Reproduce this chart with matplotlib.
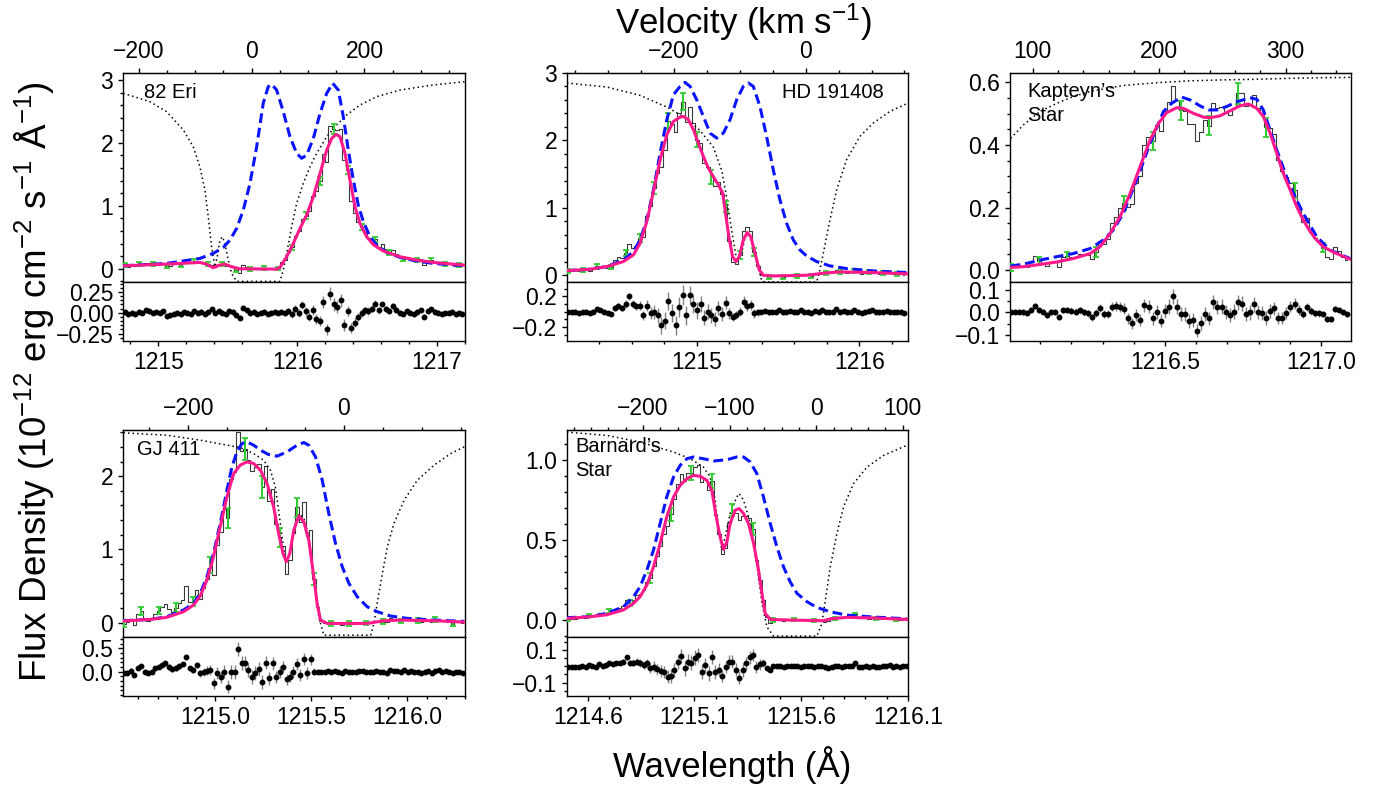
import numpy as np
import matplotlib
matplotlib.use("Agg")
import matplotlib.pyplot as plt
from matplotlib.ticker import FixedLocator, MultipleLocator, FuncFormatter

plt.rcParams['font.family'] = ['Liberation Sans', 'DejaVu Sans']
plt.rcParams['mathtext.default'] = 'regular'

LYA = 1215.67          # rest wavelength of Lyman alpha (A)
C_KMS = 299792.458

# ---------------- 82 Eri ----------------
eri_grid = (1214.76, 0.025)
eri_flux = [0.06, 0.03, 0.055, 0.05, 0.07, 0.06, 0.095, 0.085, 0.07, 0.08,
            0.07, 0.095, 0.035, 0.05, 0.07, 0.085, 0.065, 0.10, 0.09, 0.085,
            0.12, 0.10, 0.11, 0.075, 0.07, 0.06, 0.03, 0.08, 0.075, 0.05,
            0.065, 0.04, -0.02, -0.06, 0.06, 0.03, 0.0, 0.01, -0.01, 0.0,
            0.01, -0.01, 0.0, 0.01, 0.005, 0.10, 0.14, 0.27, 0.34, 0.52,
            0.60, 0.79, 0.84, 0.91, 1.15, 1.23, 1.40, 1.83, 1.69, 2.27,
            2.22, 2.20, 2.22, 1.73, 1.57, 1.08, 0.88, 0.75, 0.66, 0.58,
            0.49, 0.46, 0.47, 0.35, 0.39, 0.31, 0.26, 0.30, 0.23, 0.19,
            0.16, 0.18, 0.15, 0.12, 0.14, 0.15, 0.065, 0.13, 0.14, 0.105,
            0.09, 0.075, 0.08, 0.075, 0.08, 0.045, 0.06, 0.05]
eri_err = [0.03, 0.03, 0.03, 0.03, 0.03, 0.03, 0.03, 0.03, 0.03, 0.03,
           0.03, 0.03, 0.03, 0.03, 0.03, 0.03, 0.03, 0.03, 0.03, 0.03,
           0.03, 0.03, 0.03, 0.03, 0.03, 0.03, 0.03, 0.03, 0.03, 0.03,
           0.03, 0.03, 0.03, 0.03, 0.03, 0.03, 0.03, 0.03, 0.03, 0.03,
           0.03, 0.03, 0.03, 0.03, 0.03, 0.03, 0.035, 0.04, 0.04, 0.045,
           0.05, 0.05, 0.055, 0.055, 0.06, 0.06, 0.065, 0.07, 0.07, 0.075,
           0.075, 0.075, 0.075, 0.07, 0.065, 0.06, 0.055, 0.05, 0.05, 0.045,
           0.045, 0.04, 0.04, 0.04, 0.035, 0.035, 0.035, 0.035, 0.035, 0.03,
           0.03, 0.03, 0.03, 0.03, 0.03, 0.03, 0.03, 0.03, 0.03, 0.03,
           0.03, 0.03, 0.03, 0.03, 0.03, 0.03, 0.03, 0.03]
eri_resid = [0.01, -0.02, 0.0, -0.01, 0.01, 0.0, 0.03, 0.02, 0.0, 0.01,
             0.0, 0.02, -0.04, -0.03, -0.01, 0.0, -0.02, 0.01, 0.0, -0.01,
             0.02, 0.0, 0.01, -0.01, 0.01, 0.04, 0.0, 0.02, 0.0, -0.02,
             0.02, 0.01, -0.03, -0.06, 0.06, 0.03, 0.0, 0.01, -0.01, 0.0,
             0.01, -0.01, 0.0, 0.01, 0.0, 0.01, 0.0, 0.02, -0.02, 0.05,
             0.0, 0.09, 0.02, -0.05, 0.03, -0.07, -0.10, 0.13, -0.20, 0.23,
             0.10, 0.07, 0.15, -0.15, 0.02, -0.18, -0.12, -0.05, 0.0, 0.03,
             0.02, 0.05, 0.11, 0.03, 0.10, 0.05, 0.02, 0.08, 0.03, 0.0,
             -0.01, 0.02, 0.0, -0.02, 0.01, 0.03, -0.05, 0.02, 0.04, 0.01,
             0.0, -0.01, 0.0, 0.0, 0.01, -0.02, 0.0, -0.01]
eri_model_wave = [1214.749, 1215.060, 1215.299, 1215.347, 1215.395, 1215.431, 1215.479, 1215.527,
                  1215.587, 1215.850, 1215.874, 1215.922, 1215.970, 1216.018, 1216.066, 1216.114,
                  1216.162, 1216.210, 1216.246, 1216.277, 1216.305, 1216.341, 1216.377, 1216.413,
                  1216.449, 1216.497, 1216.545, 1216.617, 1216.737, 1216.856, 1216.976, 1217.204]
eri_model_flux = [0.048, 0.074, 0.101, 0.074, 0.016, 0.053, 0.074, 0.032,
                  0.0, -0.005, 0.021, 0.191, 0.403, 0.641, 0.853, 1.145,
                  1.516, 1.887, 2.072, 2.136, 2.099, 1.834, 1.410, 0.986,
                  0.721, 0.509, 0.382, 0.281, 0.191, 0.138, 0.101, 0.058]
eri_intr_wave = [1214.749, 1215.060, 1215.299, 1215.395, 1215.467, 1215.515, 1215.563, 1215.611,
                 1215.659, 1215.707, 1215.754, 1215.790, 1215.814, 1215.850, 1215.898, 1215.946,
                 1215.994, 1216.030, 1216.066, 1216.114, 1216.162, 1216.210, 1216.253, 1216.293,
                 1216.329, 1216.365, 1216.401, 1216.437, 1216.473, 1216.521, 1216.569, 1216.641,
                 1216.737, 1216.856, 1216.976, 1217.204]
eri_intr_flux = [0.048, 0.085, 0.164, 0.244, 0.339, 0.456, 0.641, 0.933,
                 1.357, 1.940, 2.628, 2.894, 2.931, 2.841, 2.496, 2.099,
                 1.834, 1.755, 1.807, 2.072, 2.470, 2.788, 2.947, 2.841,
                 2.417, 1.887, 1.410, 1.007, 0.747, 0.509, 0.376, 0.260,
                 0.180, 0.122, 0.085, 0.048]
eri_ism_wave = [1214.749, 1214.940, 1215.060, 1215.180, 1215.251, 1215.299, 1215.335, 1215.359,
                1215.383, 1215.407, 1215.424, 1215.443, 1215.460, 1215.479, 1215.503, 1215.527,
                1215.563, 1215.874, 1215.898, 1215.922, 1215.958, 1215.994, 1216.042, 1216.090,
                1216.138, 1216.210, 1216.281, 1216.353, 1216.449, 1216.569, 1216.737, 1216.976,
                1217.204]
eri_ism_flux = [2.788, 2.655, 2.496, 2.205, 1.940, 1.622, 1.256, 0.832,
                0.350, 0.032, 0.191, 0.456, 0.509, 0.403, 0.138, -0.074,
                -0.20, -0.20, -0.02, 0.244, 0.668, 1.039, 1.357, 1.622,
                1.834, 2.099, 2.284, 2.443, 2.602, 2.734, 2.840, 2.920,
                2.973]

# ---------------- HD 191408 ----------------
hd_grid = (1214.21, 0.022)
hd_flux = [0.07, 0.065, 0.08, 0.06, 0.075, 0.085, 0.07, 0.095, 0.13, 0.13,
           0.12, 0.11, 0.12, 0.22, 0.27, 0.25, 0.33, 0.46, 0.40, 0.44,
           0.55, 0.57, 0.88, 1.02, 1.29, 1.51, 1.60, 1.86, 2.29, 2.24,
           2.13, 2.40, 2.575, 2.28, 2.50, 2.26, 2.01, 1.96, 1.66, 1.61,
           1.46, 1.32, 1.39, 1.21, 1.02, 0.51, 0.20, 0.16, 0.30, 0.66,
           0.71, 0.66, 0.35, 0.14, 0.01, 0.01, -0.02, -0.01, -0.01, 0.01,
           -0.02, -0.01, 0.01, 0.0, -0.01, 0.02, 0.0, 0.0, -0.015, 0.02,
           0.02, 0.05, 0.035, 0.03, 0.045, 0.08, 0.05, 0.06, 0.04, 0.05,
           0.07, 0.045, 0.025, 0.04, 0.05, 0.06, 0.035, 0.025, 0.03, 0.04,
           0.03, 0.015, 0.025, 0.02, 0.0]
hd_err = [0.03, 0.03, 0.03, 0.03, 0.03, 0.03, 0.03, 0.03, 0.03, 0.03,
          0.03, 0.03, 0.03, 0.04, 0.04, 0.04, 0.05, 0.05, 0.05, 0.05,
          0.06, 0.06, 0.07, 0.08, 0.09, 0.10, 0.11, 0.11, 0.12, 0.12,
          0.12, 0.13, 0.13, 0.12, 0.12, 0.12, 0.11, 0.11, 0.10, 0.10,
          0.10, 0.09, 0.09, 0.09, 0.08, 0.07, 0.05, 0.05, 0.06, 0.07,
          0.07, 0.07, 0.06, 0.05, 0.03, 0.03, 0.03, 0.03, 0.03, 0.03,
          0.03, 0.03, 0.03, 0.03, 0.03, 0.03, 0.03, 0.03, 0.03, 0.03,
          0.03, 0.03, 0.03, 0.03, 0.03, 0.03, 0.03, 0.03, 0.03, 0.03,
          0.03, 0.03, 0.03, 0.03, 0.03, 0.03, 0.03, 0.03, 0.03, 0.03,
          0.03, 0.03, 0.03, 0.03, 0.03]
hd_resid = [0.0, -0.01, 0.0, -0.02, -0.01, 0.0, -0.02, 0.0, 0.03, 0.02,
            0.0, -0.02, -0.03, 0.05, 0.08, 0.05, 0.1, 0.2, 0.1, 0.07,
            0.08, -0.05, 0.08, -0.02, 0.0, -0.05, -0.18, -0.12, 0.14, -0.02,
            -0.18, 0.06, 0.22, -0.05, 0.22, 0.1, 0.02, 0.1, -0.08, 0.0,
            -0.05, -0.1, 0.05, -0.03, 0.12, -0.02, -0.07, -0.04, 0.0, 0.13,
            0.08, 0.09, -0.02, -0.01, 0.0, 0.01, -0.01, 0.0, 0.0, 0.02,
            -0.01, 0.0, 0.01, 0.0, -0.01, 0.02, 0.0, 0.0, -0.02, 0.01,
            0.0, 0.02, 0.0, -0.01, 0.0, 0.03, 0.0, 0.01, -0.01, 0.0,
            0.02, 0.0, -0.02, 0.0, 0.01, 0.02, 0.0, -0.01, 0.0, 0.01,
            0.0, -0.01, 0.0, 0.0, -0.02]
hd_model_wave = [1214.201, 1214.344, 1214.447, 1214.549, 1214.611, 1214.652, 1214.693, 1214.734,
                 1214.775, 1214.816, 1214.857, 1214.898, 1214.918, 1214.949, 1214.980, 1215.010,
                 1215.041, 1215.072, 1215.102, 1215.133, 1215.160, 1215.180, 1215.201, 1215.221,
                 1215.242, 1215.262, 1215.287, 1215.311, 1215.332, 1215.359, 1215.385, 1215.410,
                 1215.471, 1215.676, 1215.779, 1215.881, 1216.086, 1216.301]
hd_model_flux = [0.069, 0.089, 0.129, 0.203, 0.302, 0.475, 0.797, 1.243,
                 1.713, 2.084, 2.282, 2.347, 2.356, 2.307, 2.158, 1.960,
                 1.762, 1.589, 1.465, 1.342, 1.218, 0.871, 0.525, 0.277,
                 0.203, 0.277, 0.525, 0.634, 0.574, 0.327, 0.079, 0.0,
                 -0.01, 0.0, 0.03, 0.05, 0.04, 0.02]
hd_intr_wave = [1214.201, 1214.344, 1214.447, 1214.549, 1214.611, 1214.652, 1214.693, 1214.734,
                1214.775, 1214.816, 1214.857, 1214.898, 1214.928, 1214.959, 1215.000, 1215.041,
                1215.082, 1215.123, 1215.164, 1215.205, 1215.246, 1215.287, 1215.318, 1215.348,
                1215.389, 1215.430, 1215.471, 1215.512, 1215.553, 1215.594, 1215.635, 1215.676,
                1215.738, 1215.820, 1215.922, 1216.086, 1216.301]
hd_intr_flux = [0.069, 0.089, 0.129, 0.228, 0.351, 0.525, 0.822, 1.267,
                1.812, 2.307, 2.678, 2.802, 2.861, 2.802, 2.604, 2.356,
                2.109, 2.035, 2.109, 2.307, 2.604, 2.802, 2.851, 2.802,
                2.505, 2.059, 1.564, 1.119, 0.772, 0.525, 0.376, 0.287,
                0.203, 0.139, 0.099, 0.064, 0.040]
hd_ism_wave = [1214.201, 1214.447, 1214.652, 1214.816, 1214.939, 1215.020, 1215.102, 1215.154,
               1215.184, 1215.215, 1215.246, 1215.273, 1215.297, 1215.318, 1215.342, 1215.369,
               1215.400, 1215.420, 1215.738, 1215.758, 1215.779, 1215.820, 1215.861, 1215.922,
               1216.004, 1216.086, 1216.189, 1216.301]
hd_ism_flux = [2.851, 2.792, 2.668, 2.495, 2.322, 2.149, 1.901, 1.554,
               1.158, 0.663, 0.228, 0.30, 0.55, 0.62, 0.50, 0.20,
               -0.08, -0.10, -0.10, 0.079, 0.327, 0.822, 1.267, 1.713,
               2.059, 2.257, 2.431, 2.554]

# ---------------- Kapteyn's Star ----------------
kap_grid = (1216.005, 0.013)
kap_flux = [0.009, 0.014, 0.014, 0.013, 0.010, 0.025, 0.046, 0.028, 0.024, 0.012,
            0.025, 0.026, 0.009, 0.042, 0.045, 0.043, 0.043, 0.053, 0.047, 0.047,
            0.034, 0.058, 0.093, 0.083, 0.100, 0.149, 0.170, 0.197, 0.214, 0.201,
            0.211, 0.280, 0.301, 0.400, 0.426, 0.412, 0.464, 0.446, 0.507, 0.537,
            0.590, 0.545, 0.511, 0.508, 0.467, 0.468, 0.414, 0.442, 0.481, 0.461,
            0.535, 0.517, 0.521, 0.502, 0.497, 0.518, 0.565, 0.565, 0.523, 0.530,
            0.560, 0.517, 0.502, 0.457, 0.455, 0.434, 0.353, 0.316, 0.299, 0.280,
            0.255, 0.196, 0.155, 0.166, 0.128, 0.103, 0.089, 0.072, 0.042, 0.034,
            0.073, 0.062, 0.043, 0.032]
kap_err = [0.012, 0.012, 0.012, 0.012, 0.012, 0.013, 0.013, 0.013, 0.013, 0.013,
           0.014, 0.014, 0.014, 0.014, 0.014, 0.015, 0.015, 0.015, 0.015, 0.016,
           0.016, 0.017, 0.018, 0.018, 0.019, 0.020, 0.021, 0.022, 0.023, 0.023,
           0.024, 0.025, 0.026, 0.028, 0.029, 0.029, 0.030, 0.030, 0.031, 0.032,
           0.033, 0.032, 0.031, 0.031, 0.030, 0.030, 0.029, 0.030, 0.030, 0.030,
           0.031, 0.031, 0.031, 0.031, 0.031, 0.032, 0.033, 0.034, 0.033, 0.032,
           0.032, 0.031, 0.031, 0.030, 0.030, 0.029, 0.027, 0.026, 0.025, 0.024,
           0.023, 0.021, 0.019, 0.018, 0.017, 0.016, 0.015, 0.014, 0.014, 0.013,
           0.013, 0.013, 0.012, 0.012]
kap_resid = [0.0, 0.004, 0.003, 0.001, -0.003, 0.01, 0.029, 0.01, 0.004, -0.01,
             0.001, 0.001, -0.019, 0.012, 0.012, 0.007, 0.004, 0.01, 0.0, -0.004,
             -0.022, -0.004, 0.019, -0.007, -0.007, 0.025, 0.029, 0.026, 0.017, -0.026,
             -0.048, -0.012, -0.032, 0.032, 0.025, -0.025, 0.003, -0.036, 0.007, 0.026,
             0.072, 0.026, -0.007, -0.007, -0.039, -0.033, -0.081, -0.048, -0.007, -0.026,
             0.046, 0.025, 0.026, 0.0, -0.012, 0.003, 0.044, 0.039, -0.007, 0.0,
             0.036, 0.0, -0.001, -0.025, 0.007, 0.019, -0.025, -0.025, -0.003, 0.025,
             0.039, 0.01, -0.007, 0.025, 0.007, -0.004, -0.004, -0.007, -0.029, -0.029,
             0.017, 0.012, 0.0, -0.007]
kap_model_wave = [1216.005, 1216.046, 1216.099, 1216.153, 1216.206, 1216.260, 1216.292, 1216.324,
                  1216.356, 1216.388, 1216.420, 1216.452, 1216.479, 1216.505, 1216.537, 1216.559,
                  1216.591, 1216.623, 1216.644, 1216.676, 1216.708, 1216.740, 1216.767, 1216.794,
                  1216.815, 1216.837, 1216.858, 1216.879, 1216.901, 1216.922, 1216.943, 1216.965,
                  1216.986, 1217.007, 1217.040, 1217.093]
kap_model_flux = [0.0085, 0.011, 0.018, 0.026, 0.037, 0.053, 0.075, 0.117,
                  0.171, 0.245, 0.331, 0.416, 0.469, 0.503, 0.519, 0.517,
                  0.501, 0.489, 0.487, 0.493, 0.509, 0.525, 0.531, 0.517,
                  0.491, 0.437, 0.373, 0.309, 0.256, 0.203, 0.160, 0.123,
                  0.096, 0.075, 0.057, 0.035]
kap_intr_wave = [1216.005, 1216.046, 1216.099, 1216.153, 1216.206, 1216.260, 1216.302, 1216.334,
                 1216.366, 1216.409, 1216.452, 1216.495, 1216.521, 1216.553, 1216.580, 1216.612,
                 1216.639, 1216.666, 1216.698, 1216.730, 1216.772, 1216.794, 1216.815, 1216.858,
                 1216.901, 1216.943, 1216.986, 1217.029, 1217.093]
kap_intr_flux = [0.013, 0.019, 0.032, 0.043, 0.053, 0.069, 0.096, 0.128,
                 0.181, 0.288, 0.405, 0.507, 0.533, 0.553, 0.544, 0.525,
                 0.512, 0.512, 0.523, 0.538, 0.551, 0.546, 0.512, 0.384,
                 0.267, 0.181, 0.107, 0.064, 0.037]
kap_ism_wave = [1216.005, 1216.046, 1216.099, 1216.153, 1216.206, 1216.260, 1216.313, 1216.366,
                1216.473, 1216.580, 1216.687, 1216.794, 1216.901, 1217.007, 1217.093]
kap_ism_flux = [0.421, 0.464, 0.507, 0.533, 0.555, 0.571, 0.581, 0.590,
                0.599, 0.605, 0.608, 0.610, 0.613, 0.615, 0.616]

# ---------------- GJ 411 ----------------
gj_grid = (1214.525, 0.018)
gj_flux = [-0.013, 0.006, 0.051, -0.038, 0.122, 0.159, 0.04, 0.023, 0.047, 0.123,
           0.165, 0.209, 0.25, 0.191, 0.15, 0.206, 0.269, 0.307, 0.501, 0.281,
           0.286, 0.443, 0.328, 0.47, 0.601, 0.786, 0.65, 1.064, 1.243, 1.55,
           1.429, 1.96, 2.06, 2.599, 2.339, 2.369, 2.226, 2.064, 2.124, 2.17,
           1.846, 2.133, 1.657, 1.819, 1.343, 1.163, 1.052, 0.668, 0.853, 1.22,
           1.577, 1.369, 1.641, 1.184, 1.264, 0.60, 0.22, 0.03, -0.01, 0.0,
           -0.01, 0.01, -0.01, -0.03, 0.0, -0.01, -0.02, -0.01, 0.0, 0.01,
           -0.005, -0.01, 0.005, 0.02, 0.015, 0.015, 0.01, 0.063, 0.045, 0.056,
           0.026, 0.066, 0.035, 0.054, 0.023, 0.032, 0.011, 0.03, 0.039, 0.007,
           0.045, 0.053, 0.021, 0.039, 0.007, -0.015, 0.003, 0.011, -0.01]
gj_err = [0.05, 0.05, 0.05, 0.05, 0.05, 0.05, 0.05, 0.05, 0.05, 0.05,
          0.05, 0.05, 0.05, 0.06, 0.06, 0.06, 0.06, 0.06, 0.06, 0.06,
          0.06, 0.07, 0.08, 0.09, 0.10, 0.11, 0.12, 0.13, 0.13, 0.14,
          0.14, 0.15, 0.15, 0.15, 0.15, 0.15, 0.15, 0.15, 0.15, 0.15,
          0.15, 0.14, 0.14, 0.14, 0.13, 0.13, 0.12, 0.12, 0.12, 0.13,
          0.13, 0.13, 0.13, 0.13, 0.12, 0.08, 0.05, 0.035, 0.03, 0.03,
          0.03, 0.03, 0.03, 0.03, 0.03, 0.03, 0.03, 0.03, 0.03, 0.03,
          0.03, 0.03, 0.03, 0.03, 0.03, 0.03, 0.03, 0.03, 0.03, 0.03,
          0.03, 0.03, 0.03, 0.03, 0.03, 0.03, 0.03, 0.03, 0.03, 0.03,
          0.03, 0.03, 0.03, 0.03, 0.03, 0.03, 0.03, 0.03, 0.03]
gj_resid = [-0.036, -0.021, 0.021, -0.071, 0.086, 0.121, 0.0, -0.021, 0.0, 0.071,
            0.107, 0.143, 0.179, 0.107, 0.05, 0.086, 0.129, 0.157, 0.321, 0.071,
            0.036, 0.143, -0.036, 0.0, 0.021, 0.036, -0.25, -0.036, -0.107, 0.0,
            -0.321, 0.0, 0.0, 0.479, 0.179, 0.179, 0.036, -0.121, -0.036, 0.05,
            -0.214, 0.193, -0.143, 0.179, -0.107, -0.007, 0.107, -0.164, -0.107, 0.0,
            0.157, -0.071, 0.264, -0.036, 0.264, 0.0, 0.0, 0.0, -0.01, 0.01,
            0.0, 0.02, 0.0, -0.02, 0.01, 0.0, -0.01, 0.0, 0.01, 0.02,
            0.0, -0.01, 0.0, 0.01, 0.0, -0.01, -0.02, 0.03, 0.01, 0.02,
            -0.01, 0.03, 0.0, 0.02, -0.01, 0.0, -0.02, 0.0, 0.01, -0.02,
            0.02, 0.03, 0.0, 0.02, -0.01, -0.03, -0.01, 0.0, -0.02]
gj_model_wave = [1214.522, 1214.661, 1214.748, 1214.835, 1214.887, 1214.922, 1214.957, 1214.991,
                 1215.026, 1215.061, 1215.096, 1215.130, 1215.165, 1215.200, 1215.235, 1215.270,
                 1215.304, 1215.330, 1215.353, 1215.370, 1215.388, 1215.409, 1215.435, 1215.461,
                 1215.487, 1215.513, 1215.530, 1215.548, 1215.583, 1215.791, 1215.878, 1215.965,
                 1216.139, 1216.296]
gj_model_flux = [0.023, 0.045, 0.073, 0.15, 0.241, 0.364, 0.582, 0.90,
                 1.309, 1.718, 2.036, 2.15, 2.195, 2.173, 2.082, 1.90,
                 1.582, 1.218, 0.945, 0.832, 0.945, 1.264, 1.455, 1.377,
                 1.127, 0.627, 0.264, 0.036, -0.01, -0.01, 0.027, 0.036,
                 0.027, 0.009]
gj_intr_wave = [1214.522, 1214.661, 1214.748, 1214.835, 1214.887, 1214.922, 1214.957, 1214.991,
                1215.026, 1215.061, 1215.087, 1215.113, 1215.139, 1215.165, 1215.200, 1215.235,
                1215.278, 1215.322, 1215.374, 1215.426, 1215.461, 1215.487, 1215.522, 1215.557,
                1215.591, 1215.626, 1215.661, 1215.696, 1215.739, 1215.791, 1215.843, 1215.913,
                1216.000, 1216.139, 1216.296]
gj_intr_flux = [0.027, 0.045, 0.082, 0.173, 0.264, 0.40, 0.627, 0.945,
                1.355, 1.809, 2.127, 2.332, 2.445, 2.468, 2.423, 2.355,
                2.295, 2.273, 2.332, 2.423, 2.459, 2.423, 2.264, 1.945,
                1.491, 1.082, 0.764, 0.536, 0.355, 0.218, 0.15, 0.091,
                0.059, 0.036, 0.018]
gj_ism_wave = [1214.522, 1214.748, 1214.922, 1215.061, 1215.130, 1215.200, 1215.252, 1215.287,
               1215.313, 1215.339, 1215.357, 1215.370, 1215.391, 1215.417, 1215.440, 1215.461,
               1215.487, 1215.513, 1215.539, 1215.565, 1215.809, 1215.826, 1215.843, 1215.870,
               1215.896, 1215.930, 1215.983, 1216.052, 1216.139, 1216.226, 1216.296]
gj_ism_flux = [2.591, 2.559, 2.491, 2.423, 2.391, 2.309, 2.218, 2.082,
               1.855, 1.355, 0.991, 0.832, 0.991, 1.355, 1.491, 1.423,
               1.173, 0.627, 0.082, -0.17, -0.17, -0.01, 0.264, 0.673,
               1.036, 1.355, 1.673, 1.945, 2.15, 2.309, 2.40]

# ---------------- Barnard's Star ----------------
bar_grid = (1214.51, 0.016)
bar_flux = [0.009, 0.007, 0.008, 0.014, 0.02, 0.014, 0.029, 0.028, 0.024, 0.043,
            0.033, 0.041, 0.056, 0.058, 0.072, 0.078, 0.091, 0.127, 0.105, 0.126,
            0.154, 0.164, 0.188, 0.24, 0.263, 0.338, 0.402, 0.463, 0.537, 0.587,
            0.661, 0.758, 0.849, 0.913, 0.868, 0.919, 0.922, 0.959, 0.972, 0.862,
            0.886, 0.812, 0.872, 0.657, 0.538, 0.411, 0.453, 0.609, 0.689, 0.67,
            0.628, 0.65, 0.653, 0.64, 0.569, 0.378, 0.252, 0.128, 0.018, -0.018,
            0.0, 0.004, 0.0, -0.004, 0.002, 0.0, 0.004, 0.002, -0.002, 0.0,
            0.004, 0.0, -0.004, 0.002, -0.004, -0.01, -0.008, 0.004, 0.012, 0.017,
            0.013, 0.018, 0.02, 0.021, 0.036, 0.011, 0.013, 0.014, 0.009, 0.015,
            0.01, 0.007, 0.01, 0.011, 0.014, 0.005, 0.006, 0.001, 0.007, 0.004]
bar_err = [0.012, 0.012, 0.012, 0.012, 0.012, 0.012, 0.012, 0.012, 0.012, 0.012,
           0.012, 0.012, 0.012, 0.012, 0.012, 0.012, 0.014, 0.016, 0.018, 0.02,
           0.022, 0.024, 0.026, 0.028, 0.03, 0.032, 0.034, 0.036, 0.038, 0.04,
           0.041, 0.042, 0.043, 0.044, 0.045, 0.045, 0.045, 0.045, 0.045, 0.045,
           0.044, 0.044, 0.043, 0.042, 0.04, 0.038, 0.037, 0.038, 0.04, 0.041,
           0.041, 0.041, 0.04, 0.04, 0.039, 0.037, 0.034, 0.025, 0.015, 0.012,
           0.01, 0.01, 0.01, 0.01, 0.01, 0.01, 0.01, 0.01, 0.01, 0.01,
           0.01, 0.01, 0.01, 0.01, 0.01, 0.01, 0.01, 0.01, 0.01, 0.01,
           0.01, 0.01, 0.01, 0.01, 0.01, 0.01, 0.01, 0.01, 0.01, 0.01,
           0.01, 0.01, 0.01, 0.01, 0.01, 0.01, 0.01, 0.01, 0.01, 0.01]
bar_resid = [-0.002, -0.006, -0.006, -0.002, 0.002, -0.006, 0.008, 0.004, -0.002, 0.014,
             0.002, 0.008, 0.018, 0.014, 0.022, 0.022, 0.029, 0.055, 0.018, 0.022,
             0.029, 0.018, 0.008, 0.018, -0.012, -0.002, -0.018, -0.027, -0.033, -0.063,
             -0.059, -0.022, 0.029, 0.063, -0.012, 0.029, 0.022, 0.053, 0.069, -0.033,
             0.008, -0.043, 0.059, -0.033, -0.022, -0.059, -0.002, 0.029, 0.029, -0.02,
             -0.07, -0.022, 0.018, 0.055, 0.069, -0.002, 0.012, 0.018, -0.012, -0.022,
             0.0, 0.004, 0.0, -0.004, 0.002, 0.0, 0.004, 0.002, -0.002, 0.0,
             0.004, 0.0, -0.004, 0.002, 0.0, -0.006, -0.008, -0.004, 0.0, 0.002,
             -0.004, 0.0, 0.002, 0.004, 0.02, -0.004, -0.002, 0.0, -0.004, 0.002,
             -0.002, -0.004, 0.0, 0.002, 0.006, -0.002, 0.0, -0.004, 0.002, 0.0]
bar_model_wave = [1214.502, 1214.611, 1214.689, 1214.767, 1214.814, 1214.845, 1214.877, 1214.908,
                  1214.939, 1214.970, 1215.002, 1215.033, 1215.064, 1215.095, 1215.127, 1215.158,
                  1215.181, 1215.202, 1215.220, 1215.236, 1215.252, 1215.267, 1215.291, 1215.309,
                  1215.330, 1215.353, 1215.377, 1215.400, 1215.416, 1215.431, 1215.455, 1215.548,
                  1215.705, 1215.736, 1215.814, 1215.939, 1216.095]
bar_model_flux = [0.01, 0.021, 0.033, 0.063, 0.104, 0.146, 0.219, 0.333,
                  0.479, 0.646, 0.771, 0.844, 0.885, 0.906, 0.90, 0.875,
                  0.813, 0.646, 0.521, 0.442, 0.49, 0.604, 0.688, 0.698,
                  0.667, 0.604, 0.479, 0.313, 0.167, 0.042, 0.004, 0.0,
                  -0.004, 0.008, 0.017, 0.013, 0.004]
bar_intr_wave = [1214.502, 1214.611, 1214.689, 1214.767, 1214.814, 1214.845, 1214.877, 1214.908,
                 1214.939, 1214.970, 1215.002, 1215.033, 1215.064, 1215.095, 1215.142, 1215.189,
                 1215.252, 1215.298, 1215.330, 1215.361, 1215.392, 1215.423, 1215.455, 1215.486,
                 1215.517, 1215.548, 1215.580, 1215.627, 1215.673, 1215.736, 1215.814, 1215.939,
                 1216.095]
bar_intr_flux = [0.015, 0.021, 0.042, 0.083, 0.146, 0.208, 0.313, 0.438,
                 0.604, 0.771, 0.896, 0.969, 1.01, 1.021, 1.01, 0.996,
                 1.004, 1.021, 1.021, 0.99, 0.917, 0.771, 0.604, 0.458,
                 0.333, 0.24, 0.167, 0.115, 0.079, 0.052, 0.031, 0.019,
                 0.008]
bar_ism_wave = [1214.502, 1214.689, 1214.845, 1215.002, 1215.080, 1215.142, 1215.173, 1215.197,
                1215.213, 1215.228, 1215.244, 1215.267, 1215.298, 1215.309, 1215.330, 1215.353,
                1215.377, 1215.400, 1215.416, 1215.439, 1215.470, 1215.673, 1215.697, 1215.713,
                1215.736, 1215.767, 1215.798, 1215.845, 1215.908, 1215.986, 1216.095]
bar_ism_flux = [1.177, 1.156, 1.115, 1.052, 1.01, 0.958, 0.896, 0.75,
                0.563, 0.438, 0.521, 0.667, 0.771, 0.792, 0.75, 0.646,
                0.479, 0.271, 0.104, -0.042, -0.10, -0.10, -0.021, 0.125,
                0.333, 0.542, 0.708, 0.854, 0.958, 1.031, 1.094]

# layout / axis setup for each panel (pixel boxes of the reference)
panels = [
    dict(name='82 Eri', txt=(0.06, 0.95), grid=eri_grid, flux=eri_flux, err=eri_err, resid=eri_resid,
         model=(eri_model_wave, eri_model_flux), intr=(eri_intr_wave, eri_intr_flux), ism=(eri_ism_wave, eri_ism_flux),
         px=(123, 465), py=(73, 282, 341), xlim=(1214.747, 1217.203), ylim=(-0.21, 3.11), rlim=(-0.34, 0.37),
         xt=[1215, 1216, 1217], xfmt='%d', xminor=0.2, yt=[0, 1, 2, 3], yfmt='%d', yminor=0.2,
         rt=[-0.25, 0.0, 0.25], rfmt='%.2f', rminor=0.05, vt=[-200, 0, 200], vmin=50, every=4),
    dict(name='HD 191408', txt=(0.63, 0.95), grid=hd_grid, flux=hd_flux, err=hd_err, resid=hd_resid,
         model=(hd_model_wave, hd_model_flux), intr=(hd_intr_wave, hd_intr_flux), ism=(hd_ism_wave, hd_ism_flux),
         px=(567, 908), py=(73, 282, 341), xlim=(1214.202, 1216.30), ylim=(-0.10, 3.0), rlim=(-0.385, 0.39),
         xt=[1215, 1216], xfmt='%d', xminor=0.2, yt=[0, 1, 2, 3], yfmt='%d', yminor=0.2,
         rt=[-0.2, 0.2], rfmt='%.1f', rminor=0.1, vt=[-200, 0], vmin=50, every=4),
    dict(name='Kapteyn\u2019s\nStar', txt=(0.05, 0.955), grid=kap_grid, flux=kap_flux, err=kap_err, resid=kap_resid,
         model=(kap_model_wave, kap_model_flux), intr=(kap_intr_wave, kap_intr_flux), ism=(kap_ism_wave, kap_ism_flux),
         px=(1010, 1351), py=(73, 282, 341), xlim=(1216.003, 1217.096), ylim=(-0.038, 0.63), rlim=(-0.126, 0.134),
         xt=[1216.5, 1217.0], xfmt='%.1f', xminor=0.1, yt=[0.0, 0.2, 0.4, 0.6], yfmt='%.1f', yminor=0.05,
         rt=[-0.1, 0.0, 0.1], rfmt='%.1f', rminor=0.05, vt=[100, 200, 300], vmin=20, every=7),
    dict(name='GJ 411', txt=(0.04, 0.95), grid=gj_grid, flux=gj_flux, err=gj_err, resid=gj_resid,
         model=(gj_model_wave, gj_model_flux), intr=(gj_intr_wave, gj_intr_flux), ism=(gj_ism_wave, gj_ism_flux),
         px=(123, 465), py=(430, 637, 696), xlim=(1214.52, 1216.30), ylim=(-0.195, 2.63), rlim=(-0.52, 0.745),
         xt=[1215.0, 1215.5, 1216.0], xfmt='%.1f', xminor=0.1, yt=[0, 1, 2], yfmt='%d', yminor=0.2,
         rt=[0.0, 0.5], rfmt='%.1f', rminor=0.1, vt=[-200, 0], vmin=50, every=5),
    dict(name='Barnard\u2019s\nStar', txt=(0.025, 0.965), grid=bar_grid, flux=bar_flux, err=bar_err, resid=bar_resid,
         model=(bar_model_wave, bar_model_flux), intr=(bar_intr_wave, bar_intr_flux), ism=(bar_ism_wave, bar_ism_flux),
         px=(567, 908), py=(430, 637, 696), xlim=(1214.503, 1216.10), ylim=(-0.106, 1.19), rlim=(-0.182, 0.18),
         xt=[1214.6, 1215.1, 1215.6, 1216.1], xfmt='%.1f', xminor=0.1, yt=[0.0, 0.5, 1.0], yfmt='%.1f', yminor=0.1,
         rt=[-0.1, 0.1], rfmt='%.1f', rminor=0.05, vt=[-200, -100, 0, 100], vmin=20, every=6),
]

W, H = 1382, 785
TICK_FS = 16.5


def box(x0, x1, y0, y1):
    return [x0 / W, 1 - y1 / H, (x1 - x0) / W, (y1 - y0) / H]


def to_vel(w):
    return (np.asarray(w) - LYA) / LYA * C_KMS


def to_wave(v):
    return LYA * (1 + np.asarray(v) / C_KMS)


def fmt(f):
    return FuncFormatter(lambda x, pos: (f % x).replace('-', '\u2212'))


def ticks(ax, axis='both'):
    ax.tick_params(axis=axis, which='both', direction='out', width=1, labelsize=TICK_FS)
    ax.tick_params(axis=axis, which='major', length=3.5)
    ax.tick_params(axis=axis, which='minor', length=2)


fig = plt.figure(figsize=(W / 100, H / 100), dpi=100)

for p in panels:
    x0, x1 = p['px']
    y0, ym, y1 = p['py']
    ax = fig.add_axes(box(x0, x1, y0, ym))
    rax = fig.add_axes(box(x0, x1, ym, y1), sharex=ax)

    flux = np.array(p['flux'])
    err = np.array(p['err'])
    wave = p['grid'][0] + p['grid'][1] * np.arange(len(flux))
    k = p['every']

    ax.step(wave, flux, where='mid', color='#3a3a3a', lw=0.8, zorder=2)
    ax.plot(*p['ism'], color='black', lw=1.1, ls=(0, (1, 2)), zorder=3)
    ax.errorbar(wave[::k], flux[::k], yerr=err[::k], fmt='none', ecolor='#33cc33',
                elinewidth=1.5, capsize=2.5, capthick=1.3, zorder=4)
    ax.plot(*p['intr'], color='#0a14ff', lw=2.2, ls=(0, (3.2, 1.6)), zorder=5)
    ax.plot(*p['model'], color='#ff1a8c', lw=2.2, zorder=6)

    ax.set_xlim(*p['xlim'])
    ax.set_ylim(*p['ylim'])
    ax.yaxis.set_major_locator(FixedLocator(p['yt']))
    ax.yaxis.set_minor_locator(MultipleLocator(p['yminor']))
    ax.yaxis.set_major_formatter(fmt(p['yfmt']))
    ticks(ax)
    ax.tick_params(axis='x', which='both', bottom=False, labelbottom=False)
    ax.text(p['txt'][0], p['txt'][1], p['name'], transform=ax.transAxes, ha='left', va='top',
            fontsize=14.5, linespacing=1.3, zorder=7)

    # top axis in velocity
    sec = ax.secondary_xaxis('top', functions=(to_vel, to_wave))
    sec.xaxis.set_major_locator(FixedLocator(p['vt']))
    sec.xaxis.set_minor_locator(MultipleLocator(p['vmin']))
    sec.xaxis.set_major_formatter(fmt('%d'))
    ticks(sec)

    # residuals
    rax.errorbar(wave, p['resid'], yerr=err, fmt='o', ms=3.2, mfc='black', mec='black',
                 ecolor='#808080', elinewidth=1.0, capsize=0, zorder=3)
    rax.set_ylim(*p['rlim'])
    rax.xaxis.set_major_locator(FixedLocator(p['xt']))
    rax.xaxis.set_minor_locator(MultipleLocator(p['xminor']))
    rax.xaxis.set_major_formatter(fmt(p['xfmt']))
    rax.yaxis.set_major_locator(FixedLocator(p['rt']))
    rax.yaxis.set_minor_locator(MultipleLocator(p['rminor']))
    rax.yaxis.set_major_formatter(fmt(p['rfmt']))
    ticks(rax)

    for a in (ax, rax):
        for sp in a.spines.values():
            sp.set_linewidth(1.0)

fig.text(743 / W, 1 - 22 / H, 'Velocity (km s$^{-1}$)', ha='center', va='center', fontsize=25)
fig.text(732 / W, 1 - 765 / H, 'Wavelength (\u00c5)', ha='center', va='center', fontsize=25)
fig.text(35 / W, 1 - 382 / H, 'Flux Density (10$^{-12}$ erg cm$^{-2}$ s$^{-1}$ \u00c5$^{-1}$)',
         rotation=90, ha='center', va='center', fontsize=26.5)

fig.savefig('out.png', dpi=100)
